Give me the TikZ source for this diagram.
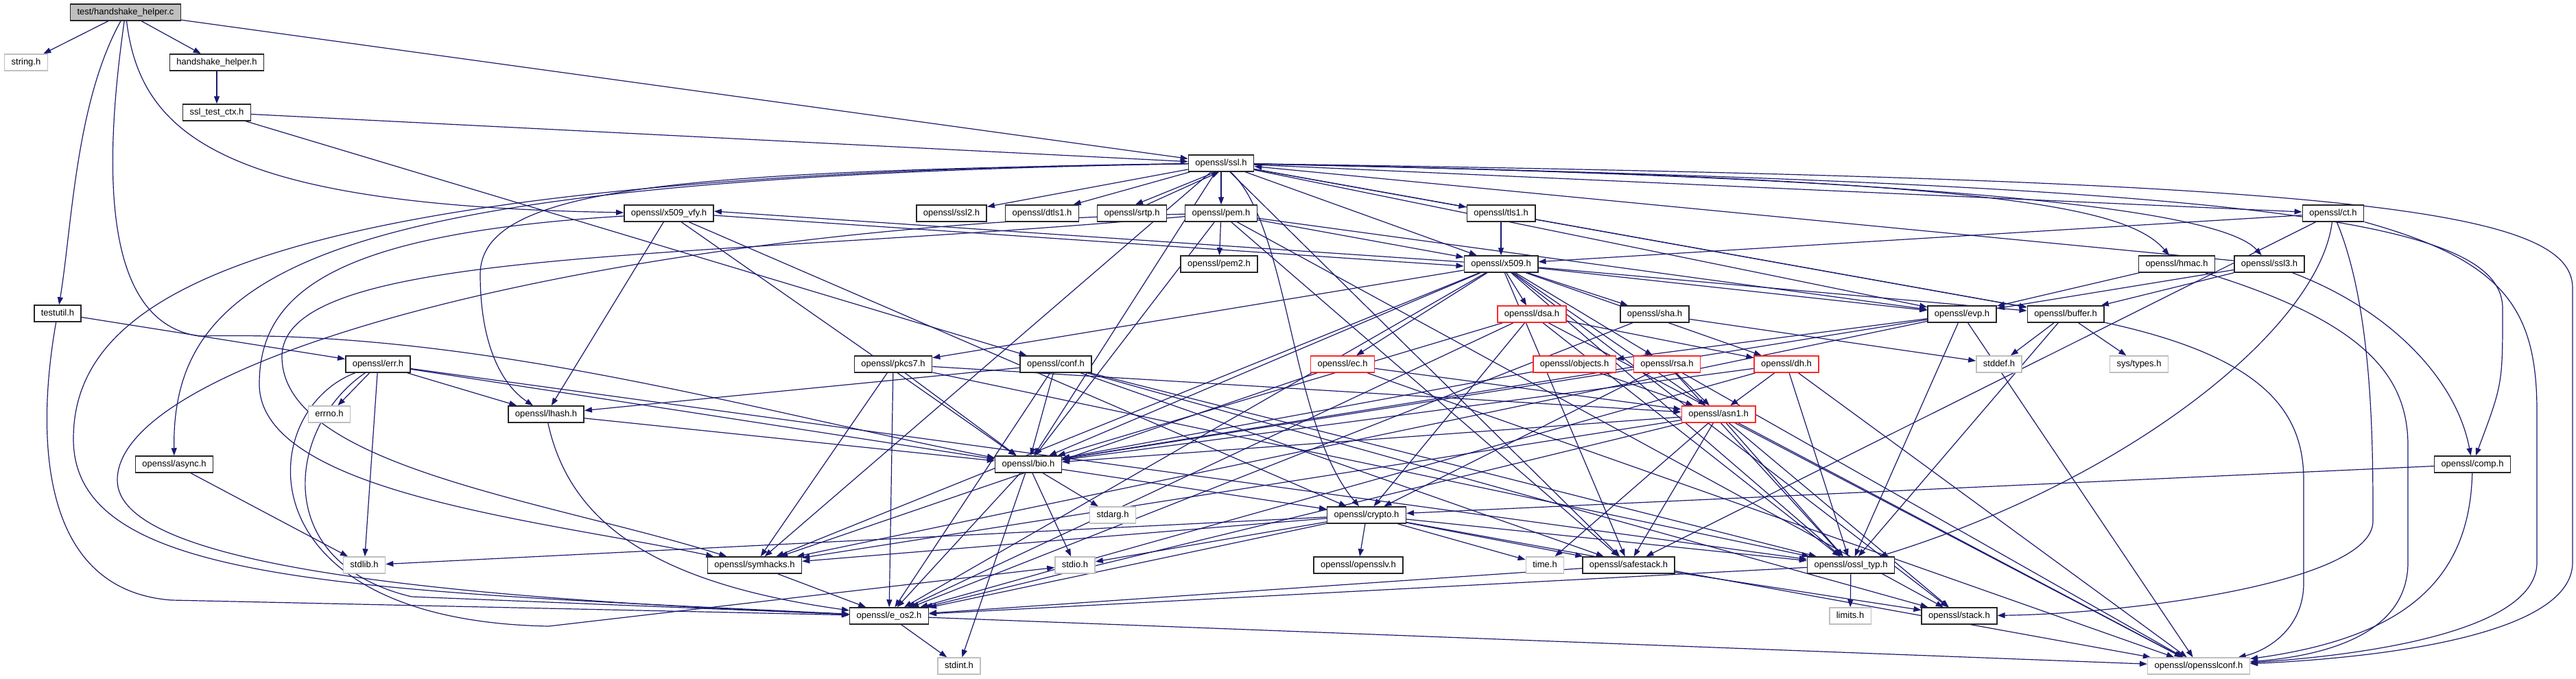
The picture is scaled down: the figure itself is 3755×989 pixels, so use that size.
\documentclass[tikz,border=0pt]{standalone}
\usepackage{fontspec}
\setmainfont{Liberation Sans}
\usetikzlibrary{arrows.meta, backgrounds}
\definecolor{inclblue}{RGB}{25,25,112}
\definecolor{sysgray}{RGB}{191,191,191}
\definecolor{truncred}{RGB}{255,40,40}
\tikzset{
  hdr/.style={rectangle, draw=black!85, fill=white, line width=1.5pt,
    minimum height=24pt, inner xsep=10pt, inner ysep=0pt,
    text height=10pt, text depth=3pt, font=\fontsize{13}{15}\selectfont},
  syshdr/.style={hdr, draw=sysgray},
  redhdr/.style={hdr, draw=truncred},
  roothdr/.style={hdr, fill=sysgray},
  incl/.style={-{Triangle[length=11pt,width=8pt]}, line width=1.2pt, color=inclblue}
}

\begin{document}
\begin{tikzpicture}[x=1pt, y=-1pt]
  \useasboundingbox (0,0) rectangle (3755,989);

  % headers, row by row
  \node[roothdr] (hhc) at (183,18) {test/handshake\_helper.c};
  \node[syshdr] (stringh) at (38,91) {string.h};
  \node[hdr] (hhh) at (316,91) {handshake\_helper.h};
  \node[hdr] (sslctx) at (316,164) {ssl\_test\_ctx.h};
  \node[hdr] (ssl) at (1780,238) {openssl/ssl.h};
  \node[hdr] (xvfy) at (975,311) {openssl/x509\_vfy.h};
  \node[hdr] (ssltwo) at (1387,311) {openssl/ssl2.h};
  \node[hdr] (dtls) at (1519,311) {openssl/dtls1.h};
  \node[hdr] (srtp) at (1650,311) {openssl/srtp.h};
  \node[hdr] (pem) at (1780,311) {openssl/pem.h};
  \node[hdr] (tls) at (2188,311) {openssl/tls1.h};
  \node[hdr] (ct) at (3401,311) {openssl/ct.h};
  \node[hdr] (pemtwo) at (1777,385) {openssl/pem2.h};
  \node[hdr] (xfive) at (2188,385) {openssl/x509.h};
  \node[hdr] (hmac) at (3173,385) {openssl/hmac.h};
  \node[hdr] (sslthree) at (3308,385) {openssl/ssl3.h};
  \node[hdr] (testutil) at (84,457) {testutil.h};
  \node[redhdr] (dsa) at (2233,458) {openssl/dsa.h};
  \node[hdr] (sha) at (2412,458) {openssl/sha.h};
  \node[hdr] (evp) at (2860,458) {openssl/evp.h};
  \node[hdr] (buffer) at (3011,458) {openssl/buffer.h};
  \node[hdr] (err) at (551,531) {openssl/err.h};
  \node[hdr] (pkcs7) at (1302,531) {openssl/pkcs7.h};
  \node[hdr] (conf) at (1539,531) {openssl/conf.h};
  \node[redhdr] (ec) at (1957,531) {openssl/ec.h};
  \node[redhdr] (objects) at (2295,531) {openssl/objects.h};
  \node[redhdr] (rsa) at (2430,531) {openssl/rsa.h};
  \node[redhdr] (dh) at (2604,531) {openssl/dh.h};
  \node[syshdr] (stddef) at (2914,531) {stddef.h};
  \node[syshdr] (systypes) at (3118,531) {sys/types.h};
  \node[syshdr] (errno) at (480,604) {errno.h};
  \node[hdr] (lhash) at (796,604) {openssl/lhash.h};
  \node[redhdr] (asn) at (2505,604) {openssl/asn1.h};
  \node[hdr] (async) at (254,677) {openssl/async.h};
  \node[hdr] (bio) at (1499,677) {openssl/bio.h};
  \node[hdr] (comp) at (3604,677) {openssl/comp.h};
  \node[syshdr] (stdarg) at (1622,751) {stdarg.h};
  \node[hdr] (crypto) at (1992,751) {openssl/crypto.h};
  \node[syshdr] (stdlib) at (531,824) {stdlib.h};
  \node[hdr] (symhacks) at (1100,824) {openssl/symhacks.h};
  \node[syshdr] (stdio) at (1567,824) {stdio.h};
  \node[hdr] (opensslv) at (1980,824) {openssl/opensslv.h};
  \node[syshdr] (time) at (2252,824) {time.h};
  \node[hdr] (safestack) at (2374,824) {openssl/safestack.h};
  \node[hdr] (ossltyp) at (2698,824) {openssl/ossl\_typ.h};
  \node[hdr] (eos2) at (1296,898) {openssl/e\_os2.h};
  \node[syshdr] (limits) at (2697,898) {limits.h};
  \node[hdr] (stack) at (2856,898) {openssl/stack.h};
  \node[syshdr] (stdint) at (1398,971) {stdint.h};
  \node[syshdr] (osslconf) at (3205,971) {openssl/opensslconf.h};

  \begin{scope}[on background layer]
  \fill[white] (0,0) rectangle (3755,989);

  % test/handshake_helper.c
  \draw[incl] (hhc) -- (stringh);
  \draw[incl] (hhc) -- (hhh);
  \draw[incl] (hhc) -- (ssl);
  \draw[incl] (hhc) .. controls (110,150) and (105,330) .. (testutil);
  \draw[incl] (hhc) .. controls (150,250) and (150,470) .. (290,490) .. controls (700,480) and (1100,600) .. (bio);
  \draw[incl] (hhc) .. controls (205,200) and (330,300) .. (xvfy);
  \draw[incl] (hhh) -- (sslctx);
  \draw[incl] (sslctx) -- (ssl);
  \draw[incl] (sslctx) -- (conf);
  \draw[incl] (testutil) -- (err);
  \draw[incl] (testutil) .. controls (55,620) and (50,860) .. (250,875) -- (eos2);

  % openssl/ssl.h
  \draw[incl] (ssl) -- (ssltwo);
  \draw[incl] (ssl) -- (dtls);
  \draw[incl] ([xshift=-8pt]ssl.south) -- ([xshift=5pt]srtp.north);
  \draw[incl] ([xshift=22pt]srtp.north) -- ([xshift=-3pt]ssl.south);
  \draw[incl] (ssl) -- (pem);
  \draw[incl] (ssl) -- (tls);
  \draw[incl] (ssl) -- (xfive);
  \draw[incl] (ssl) -- (ct);
  \draw[incl] (ssl) .. controls (2900,260) and (3100,300) .. (hmac);
  \draw[incl] (ssl) .. controls (3000,262) and (3250,320) .. (sslthree);
  \draw[incl] (sslthree) -- (ssl);
  \draw[incl] (ssl) .. controls (3300,270) and (3648,320) .. (3648,450) .. controls (3648,560) .. (comp);
  \draw[incl] (ssl) .. controls (3400,262) and (3750,300) .. (3750,420) -- (3750,820) .. controls (3750,930) and (3450,960) .. (osslconf);
  \draw[incl] (ssl) -- (bio);
  \draw[incl] (ssl) .. controls (400,255) and (107,420) .. (107,640) .. controls (107,850) and (500,860) .. (eos2);
  \draw[incl] (ssl) .. controls (1880,330) and (1880,620) .. (crypto);
  \draw[incl] (ssl) .. controls (1000,250) and (700,270) .. (700,400) .. controls (700,500) and (730,560) .. (lhash);
  \draw[incl] (ssl) -- (symhacks);
  \draw[incl] (ssl) -- (safestack);
  \draw[incl] (ssl) .. controls (500,260) and (250,380) .. (async);
  \draw[incl] (ssl) -- (evp);
  \draw[incl] (ssl) -- (buffer);

  % openssl/pem.h, tls1.h, ct.h, hmac.h, ssl3.h, comp.h
  \draw[incl] (pem) -- (pemtwo);
  \draw[incl] (pem) -- (xfive);
  \draw[incl] (pem) -- (evp);
  \draw[incl] (pem) -- (bio);
  \draw[incl] (pem) -- (stack);
  \draw[incl] (pem) -- (safestack);
  \draw[incl] (pem) .. controls (900,330) and (171,520) .. (171,700) .. controls (171,820) and (600,870) .. (eos2);
  \draw[incl] (pem) .. controls (1000,380) and (411,360) .. (411,520) .. controls (411,680) and (800,730) .. (symhacks);
  \draw[incl] (tls) -- (xfive);
  \draw[incl] (tls) -- (buffer);
  \draw[incl] (ct) -- (xfive);
  \draw[incl] (ct) .. controls (3380,480) and (3100,700) .. (ossltyp);
  \draw[incl] (ct) -- (safestack);
  \draw[incl] (ct) .. controls (3459,450) and (3459,650) .. (3459,760) .. controls (3459,850) and (3100,895) .. (stack);
  \draw[incl] (ct) .. controls (3650,380) and (3698,450) .. (3698,600) -- (3698,820) .. controls (3698,920) and (3450,955) .. (osslconf);
  \draw[incl] (hmac) -- (evp);
  \draw[incl] (hmac) .. controls (3450,470) and (3510,550) .. (3510,650) -- (3510,820) .. controls (3510,920) and (3400,955) .. (osslconf);
  \draw[incl] (sslthree) .. controls (3480,450) and (3580,550) .. (comp);
  \draw[incl] (sslthree) -- (buffer);
  \draw[incl] (sslthree) -- (evp);
  \draw[incl] (comp) -- (crypto);
  \draw[incl] (comp) .. controls (3600,850) and (3500,930) .. (osslconf);

  % openssl/x509_vfy.h and openssl/x509.h
  \draw[incl] ([yshift=-3pt]xvfy.east) -- ([yshift=-3pt]xfive.west);
  \draw[incl] ([yshift=3pt]xfive.west) -- ([yshift=3pt]xvfy.east);
  \draw[incl] (xvfy) -- (lhash);
  \draw[incl] (xvfy) -- (bio);
  \draw[incl] (xvfy) -- (crypto);
  \draw[incl] (xvfy) .. controls (500,340) and (378,420) .. (378,560) .. controls (378,720) and (800,760) .. (symhacks);
  \draw[incl] (xfive) -- (dsa);
  \draw[incl] (xfive) -- (sha);
  \draw[incl] (xfive) -- (ec);
  \draw[incl] (xfive) -- (rsa);
  \draw[incl] (xfive) -- (dh);
  \draw[incl] (xfive) -- (asn);
  \draw[incl] (xfive) -- (evp);
  \draw[incl] (xfive) -- (buffer);
  \draw[incl] (xfive) -- (bio);
  \draw[incl] (xfive) -- (safestack);
  \draw[incl] (xfive) -- (symhacks);
  \draw[incl] (xfive) -- (eos2);
  \draw[incl] (xfive) -- (ossltyp);
  \draw[incl] (xfive) -- (pkcs7);
  \draw[incl] (xfive) -- (stack);

  % algorithm headers
  \draw[incl] (dsa) -- (eos2);
  \draw[incl] (dsa) -- (bio);
  \draw[incl] (dsa) -- (crypto);
  \draw[incl] (dsa) -- (ossltyp);
  \draw[incl] (dsa) -- (osslconf);
  \draw[incl] (dsa) -- (dh);
  \draw[incl] (sha) -- (eos2);
  \draw[incl] (sha) -- (stddef);
  \draw[incl] (ec) -- (asn);
  \draw[incl] (ec) -- (symhacks);
  \draw[incl] (ec) -- (osslconf);
  \draw[incl] (objects) -- (asn);
  \draw[incl] (objects) -- (bio);
  \draw[incl] (rsa) -- (asn);
  \draw[incl] (rsa) -- (bio);
  \draw[incl] (rsa) -- (crypto);
  \draw[incl] (rsa) -- (ossltyp);
  \draw[incl] (rsa) -- (osslconf);
  \draw[incl] (dh) -- (asn);
  \draw[incl] (dh) -- (bio);
  \draw[incl] (dh) -- (eos2);
  \draw[incl] (dh) -- (ossltyp);
  \draw[incl] (dh) -- (osslconf);
  \draw[incl] (asn) -- (time);
  \draw[incl] (asn) -- (eos2);
  \draw[incl] (asn) -- (bio);
  \draw[incl] (asn) -- (stack);
  \draw[incl] (asn) -- (safestack);
  \draw[incl] (asn) -- (ossltyp);
  \draw[incl] (asn) -- (symhacks);
  \draw[incl] (asn) -- (osslconf);
  \draw[incl] (evp) -- (osslconf);
  \draw[incl] (evp) -- (ossltyp);
  \draw[incl] (evp) -- (symhacks);
  \draw[incl] (evp) -- (bio);
  \draw[incl] (evp) -- (objects);
  \draw[incl] (buffer) -- (ossltyp);
  \draw[incl] (buffer) -- (stddef);
  \draw[incl] (buffer) -- (systypes);
  \draw[incl] (buffer) .. controls (3300,520) and (3358,600) .. (3358,700) -- (3358,850) .. controls (3358,920) and (3300,950) .. (osslconf);

  % openssl/err.h, async.h, lhash.h, pkcs7.h, conf.h
  \draw[incl] (err) -- (errno);
  \draw[incl] (err) -- (stdlib);
  \draw[incl] (err) -- (ossltyp);
  \draw[incl] (err) -- (bio);
  \draw[incl] (err) -- (lhash);
  \draw[incl] (err) .. controls (420,620) and (390,820) .. (600,870) -- (eos2);
  \draw[incl] (err) .. controls (370,600) and (350,905) .. (800,913) -- (stdio);
  \draw[incl] (async) -- (stdlib);
  \draw[incl] (lhash) -- (bio);
  \draw[incl] (lhash) .. controls (830,760) and (950,850) .. (eos2);
  \draw[incl] (pkcs7) -- (asn);
  \draw[incl] (pkcs7) -- (bio);
  \draw[incl] (pkcs7) -- (eos2);
  \draw[incl] (pkcs7) -- (symhacks);
  \draw[incl] (pkcs7) -- (ossltyp);
  \draw[incl] (conf) -- (bio);
  \draw[incl] (conf) -- (lhash);
  \draw[incl] (conf) -- (stack);
  \draw[incl] (conf) -- (safestack);
  \draw[incl] (conf) -- (eos2);
  \draw[incl] (conf) -- (ossltyp);

  % openssl/bio.h, crypto.h and the bottom rows
  \draw[incl] (bio) -- (eos2);
  \draw[incl] (bio) -- (stdio);
  \draw[incl] (bio) -- (stdarg);
  \draw[incl] (bio) -- (crypto);
  \draw[incl] (bio) -- (stdint);
  \draw[incl] (crypto) -- (stdlib);
  \draw[incl] (crypto) -- (time);
  \draw[incl] (crypto) -- (eos2);
  \draw[incl] (crypto) -- (safestack);
  \draw[incl] (crypto) -- (opensslv);
  \draw[incl] (crypto) -- (ossltyp);
  \draw[incl] (crypto) -- (osslconf);
  \draw[incl] (crypto) -- (symhacks);
  \draw[incl] (crypto) -- (stdio);
  \draw[incl] (symhacks) -- (eos2);
  \draw[incl] (safestack) -- (stack);
  \draw[incl] (safestack) -- (eos2);
  \draw[incl] (ossltyp) -- (limits);
  \draw[incl] (ossltyp) -- (eos2);
  \draw[incl] (eos2) -- (osslconf);
  \draw[incl] (eos2) -- (stdint);
  \end{scope}
\end{tikzpicture}
\end{document}
